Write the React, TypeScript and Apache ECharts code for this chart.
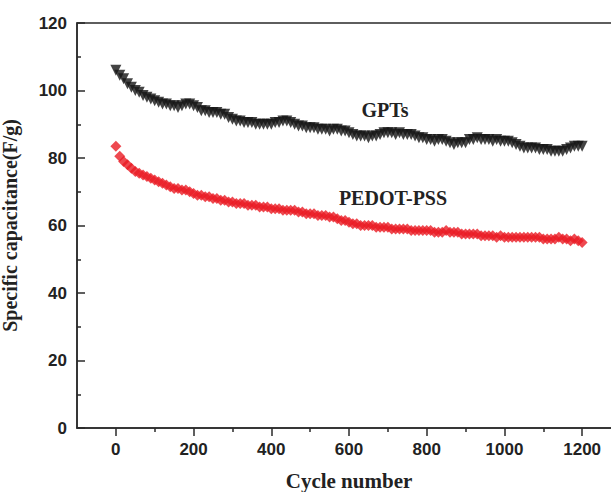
import React, { useEffect, useRef } from "react";
import * as echarts from "echarts";

const cycles = [
  0, 10, 20, 30, 40, 50, 60, 70, 80, 90,
  100, 110, 120, 130, 140, 150, 160, 170, 180, 190,
  200, 210, 220, 230, 240, 250, 260, 270, 280, 290,
  300, 310, 320, 330, 340, 350, 360, 370, 380, 390,
  400, 410, 420, 430, 440, 450, 460, 470, 480, 490,
  500, 510, 520, 530, 540, 550, 560, 570, 580, 590,
  600, 610, 620, 630, 640, 650, 660, 670, 680, 690,
  700, 710, 720, 730, 740, 750, 760, 770, 780, 790,
  800, 810, 820, 830, 840, 850, 860, 870, 880, 890,
  900, 910, 920, 930, 940, 950, 960, 970, 980, 990,
  1000, 1010, 1020, 1030, 1040, 1050, 1060, 1070, 1080, 1090,
  1100, 1110, 1120, 1130, 1140, 1150, 1160, 1170, 1180, 1190,
  1200,
];

const gpts = [
  106, 104.5, 103.5, 102, 101, 100, 99.5, 98.5, 98, 97.5,
  97, 96.5, 96, 96, 95.5, 95.5, 95, 95.5, 96, 96,
  95.5, 95, 94, 94, 93.5, 93.5, 93.5, 93, 93, 92,
  91.5, 91, 91, 90.5, 90.5, 90.5, 90, 90, 90, 90,
  90, 90.5, 90.5, 91, 91, 90.5, 90, 89.5, 89.5, 89,
  89, 89, 88.5, 88.5, 88.5, 88, 88.5, 88.5, 88, 88,
  87.5, 87, 86.5, 86.5, 86.5, 86, 86.5, 86.5, 87, 87.5,
  87.5, 87.5, 87, 87.5, 87, 87, 87, 86.5, 86, 86,
  85.5, 85.5, 85, 85.5, 85.5, 85, 84.5, 84, 84.5, 84.5,
  84.5, 85.5, 85.5, 86, 85.5, 85.5, 85.5, 85, 85.5, 85,
  85, 85, 84.5, 84, 83.5, 83, 83, 83, 83, 82.5,
  82.5, 82.5, 82, 82, 82, 82, 82.5, 83, 83.5, 83.5,
  83.5,
];

const pedot = [
  83.5, 80.5, 79, 78, 77, 76, 75.5, 75, 74.5, 74,
  73.5, 73, 72.5, 72, 71.5, 71, 71, 70.5, 70.5, 70,
  69.5, 69, 69, 68.5, 68.5, 68, 68, 67.5, 67.5, 67,
  67, 66.5, 66.5, 66.5, 66, 66, 66, 65.5, 65.5, 65.5,
  65, 65, 65, 64.5, 64.5, 64.5, 64.5, 64, 64, 63.5,
  63.5, 63.5, 63, 63, 63, 62.5, 62.5, 62, 61.5, 61.5,
  61, 60.5, 60.5, 60, 60, 60, 60, 59.5, 59.5, 59.5,
  59.5, 59, 59, 59, 59, 59, 58.5, 58.5, 58.5, 58.5,
  58.5, 58.5, 58, 58, 58, 58.5, 58, 58, 58, 57.5,
  57.5, 57.5, 57.5, 57.5, 57, 57, 57, 57, 56.5, 57,
  56.5, 56.5, 56.5, 56.5, 56.5, 56.5, 56.5, 56.5, 56.5, 56.5,
  56, 56, 56, 56, 56.5, 56, 56, 55.5, 56, 55.5,
  55,
];

const xMajorTicks = [0, 200, 400, 600, 800, 1000, 1200];
const xMinorTicks = [100, 300, 500, 700, 900, 1100];

export default function App() {
  const ref = useRef<HTMLDivElement>(null);
  useEffect(() => {
    if (!ref.current) return;
    const chart = echarts.init(ref.current, undefined, { renderer: "svg" });
    const axisColor = "#2a2a2a";
    const labelFont = {
      fontFamily: "Liberation Sans",
      fontWeight: "bold" as const,
      fontSize: 17,
      color: "#222",
    };
    const nameFont = {
      fontFamily: "Liberation Serif",
      fontWeight: "bold" as const,
      fontSize: 20,
      color: "#222",
    };
    const fmt = (v: number) => String(v);
    chart.setOption({
      animation: false,
      backgroundColor: "#fff",
      grid: {
        left: 77,
        top: 23,
        width: 544,
        height: 405,
        containLabel: false,
        outerBoundsMode: "none",
        show: true,
        borderColor: axisColor,
        borderWidth: 1.5,
        backgroundColor: "transparent",
      },
      xAxis: [
        {
          type: "value",
          min: -100,
          max: 1300,
          interval: 100,
          name: "Cycle number",
          nameLocation: "middle",
          nameGap: 42,
          nameTextStyle: { ...nameFont, fontSize: 21 },
          axisLine: { show: true, onZero: false, lineStyle: { color: axisColor, width: 1.5 } },
          axisTick: {
            show: true,
            customValues: xMajorTicks,
            length: 8,
            inside: false,
            lineStyle: { color: axisColor, width: 1.5 },
          },
          axisLabel: { customValues: xMajorTicks, margin: 13, formatter: fmt, ...labelFont },
          splitLine: { show: false },
        },
        {
          type: "value",
          position: "bottom",
          min: -100,
          max: 1300,
          interval: 100,
          axisLine: { show: false, onZero: false },
          axisTick: {
            show: true,
            customValues: xMinorTicks,
            length: 4,
            inside: false,
            lineStyle: { color: axisColor, width: 1.5 },
          },
          axisLabel: { show: false },
          splitLine: { show: false },
        },
      ],
      yAxis: {
        type: "value",
        min: 0,
        max: 120,
        interval: 20,
        name: "Specific capacitance(F/g)",
        nameLocation: "middle",
        nameGap: 57,
        nameTextStyle: nameFont,
        axisLine: { show: true, onZero: false, lineStyle: { color: axisColor, width: 1.5 } },
        axisTick: { show: true, inside: true, length: 8, lineStyle: { color: axisColor, width: 1.5 } },
        minorTick: { show: true, splitNumber: 2, length: 4, lineStyle: { color: axisColor, width: 1.5 } },
        axisLabel: { margin: 10, formatter: fmt, ...labelFont },
        splitLine: { show: false },
      },
      series: [
        {
          name: "GPTs",
          type: "scatter",
          xAxisIndex: 0,
          data: cycles.map((c, i) => [c, gpts[i]]),
          symbol: "triangle",
          symbolRotate: 180,
          symbolSize: 11,
          itemStyle: { color: "#151515" },
        },
        {
          name: "PEDOT-PSS",
          type: "scatter",
          xAxisIndex: 0,
          data: cycles.map((c, i) => [c, pedot[i]]),
          symbol: "diamond",
          symbolSize: 11,
          itemStyle: { color: "#ea1c24" },
        },
      ],
      graphic: [
        {
          type: "text",
          x: 385,
          y: 110,
          style: {
            text: "GPTs",
            font: "bold 20px 'Liberation Serif'",
            fill: "#222",
            align: "center",
            verticalAlign: "middle",
          },
        },
        {
          type: "text",
          x: 393,
          y: 198,
          style: {
            text: "PEDOT-PSS",
            font: "bold 20px 'Liberation Serif'",
            fill: "#222",
            align: "center",
            verticalAlign: "middle",
          },
        },
      ],
    });
    return () => chart.dispose();
  }, []);
  return (
    <div
      ref={ref}
      style={{ position: "fixed", left: 0, top: 0, width: 611, height: 492 }}
    />
  );
}
